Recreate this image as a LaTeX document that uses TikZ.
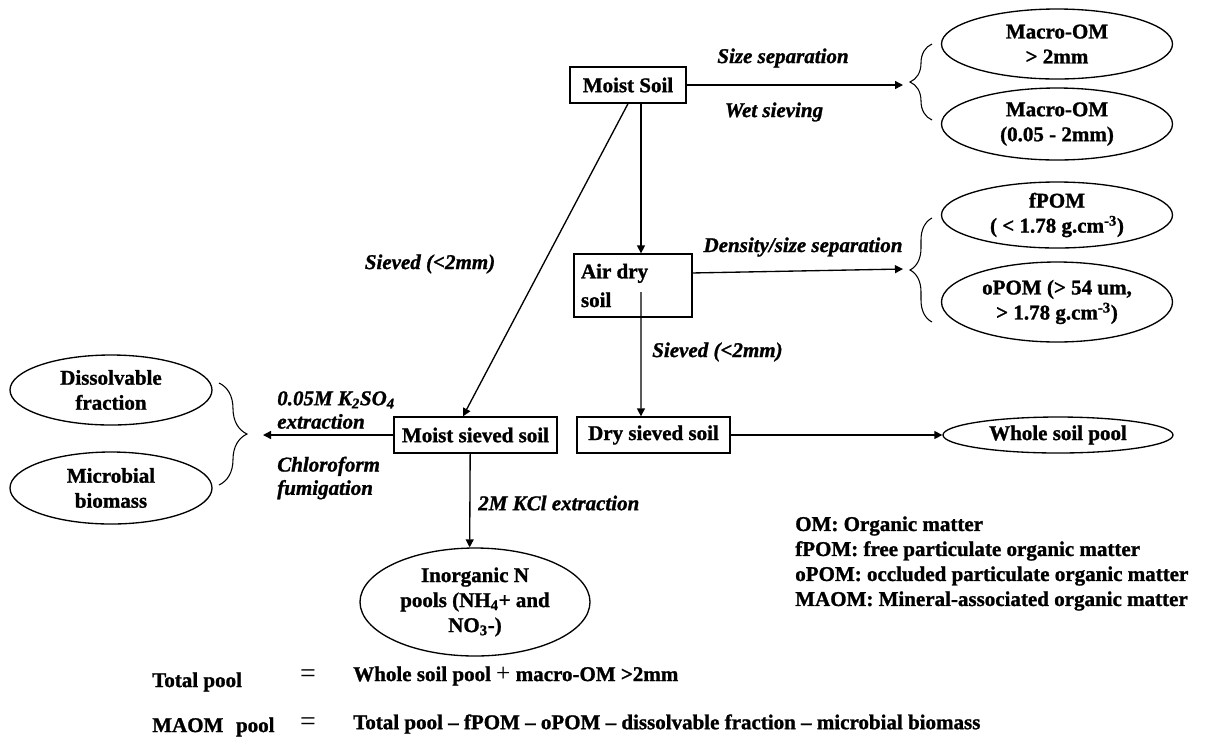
\documentclass[tikz,border=0pt]{standalone}
\usepackage{fontspec}
\setmainfont{Liberation Serif}[BoldFeatures={FakeBold=1.2},BoldItalicFeatures={FakeBold=1.2}]
\usetikzlibrary{shapes.geometric, arrows.meta, decorations.pathreplacing}
\newcommand\fs{\fontsize{15.75}{18.75}\selectfont}
\begin{document}
\begin{tikzpicture}[x=0.75pt,y=-0.75pt,
  every node/.style={inner sep=0pt, font=\fs\bfseries},
  box/.style={draw, line width=1pt, minimum height=27pt},
  ell/.style={draw, ellipse, line width=1pt, align=center},
  lab/.style={font=\fs\bfseries\itshape, align=flush left},
  arr/.style={line width=1pt, -{Triangle[length=6pt,width=6pt]}},
  brc/.style={decorate, decoration={brace, amplitude=#1}, line width=0.8pt},
  eqs/.style={font=\fontsize{21}{21}\selectfont\mdseries}
]
\fill[white] (0,0) rectangle (1210,744);
\useasboundingbox (0,0) rectangle (1210,744);

% boxes
\node[box, minimum width=87pt] (ms) at (628,85) {Moist Soil};
\node[box, minimum width=88.5pt, minimum height=47.25pt, text width=78pt, align=flush left,
      font=\fontsize{15.75}{21.5}\selectfont\bfseries] (ad) at (633,285.5) {Air dry\\soil};
\node[box, minimum width=122.25pt] (mss) at (475.5,435) {Moist sieved soil};
\node[box, minimum width=114.75pt] (ds) at (653.5,435) {Dry sieved soil};

% ellipses right
\node[ell, minimum width=173.25pt, minimum height=52.5pt] (e1) at (1057,44) {Macro-OM\\> 2mm};
\node[ell, minimum width=173.25pt, minimum height=54pt] (e2) at (1057,124) {Macro-OM\\(0.05 - 2mm)};
\node[ell, minimum width=173.25pt, minimum height=49.5pt] (e3) at (1057,215) {fPOM\\( < 1.78 g.cm\textsuperscript{-3})};
\node[ell, minimum width=173.25pt, minimum height=60pt] (e4) at (1057,302) {oPOM (> 54 um,\\> 1.78 g.cm\textsuperscript{-3})};
\node[ell, minimum width=172.5pt, minimum height=27pt] (wsp) at (1058,435) {Whole soil pool};

% ellipses left / bottom
\node[ell, minimum width=151.5pt, minimum height=52.5pt] (dis) at (111,390) {Dissolvable\\fraction};
\node[ell, minimum width=151.5pt, minimum height=54pt] (mic) at (111,488) {Microbial\\biomass};
\node[ell, minimum width=172.5pt, minimum height=81pt] (ino) at (475,602) {Inorganic N\\pools (NH\textsubscript{4}+ and\\NO\textsubscript{3}-)};

% braces
\draw[brc=16.5pt] (932,120) -- (932,44);
\draw[brc=16.5pt] (932,322) -- (932,218);
\draw[brc=21pt] (219,383) -- (219,485);
\coordinate (t1) at (903,85);
\coordinate (t2) at (903,269);
\coordinate (t3) at (263,435);

% connectors
\draw[arr] (ms.east) -- (t1);
\draw[arr] ([xshift=9.75pt]ms.south) -- ([xshift=6pt]ad.north);
\draw[arr] (ms.south) -- ([xshift=-9.4pt]mss.north);
\draw[arr] ([yshift=9.4pt]ad.east) -- (t2);
\draw[arr] ([xshift=6pt,yshift=-5pt]ad.center) -- ([xshift=-9.4pt]ds.north);
\draw[arr] (ds.east) -- (wsp.west);
\draw[arr] (mss.west) -- (t3);
\draw[arr] ([xshift=-4pt]mss.south) -- ([xshift=-4pt]ino.north);

% labels
\node[lab] (l1) at (783,58) {Size separation};
\node[lab] (l2) at (774,112) {Wet sieving};
\node[lab] (l3) at (803,247) {Density/size separation};
\node[lab] (l4) at (430,264) {Sieved (<2mm)};
\node[lab, anchor=west] (l5) at (652,352) {Sieved (<2mm)};
\node[lab, anchor=west] (l6) at (478,503) {2M KCl extraction};
\node[lab, anchor=west, font=\fontsize{15.75}{17.5}\selectfont\bfseries\itshape] (l7) at (277,410) {0.05M K\textsubscript{2}SO\textsubscript{4}\\extraction};
\node[lab, anchor=west, font=\fontsize{15.75}{17.5}\selectfont\bfseries\itshape] (l8) at (277,478) {Chloroform\\fumigation};

% legend
\node[anchor=west, align=flush left, font=\fontsize{15.75}{18.75}\selectfont\bfseries] (leg) at (795,563.5)
  {OM: Organic matter\\fPOM: free particulate organic matter\\oPOM: occluded particulate organic matter\\MAOM: Mineral-associated organic matter};

% equations
\node[anchor=west] (q1a) at (152,682) {Total pool};
\node[eqs] (q1b) at (308,676) {=};
\node[anchor=west] (q1c) at (353,676) {Whole soil pool {\fontsize{19}{19}\selectfont\mdseries +} macro-OM >2mm};
\node[anchor=west] (q2a) at (152,727) {MAOM\hspace{0.6em}pool};
\node[eqs] (q2b) at (308,724) {=};
\node[anchor=west] (q2c) at (353,724) {Total pool – fPOM – oPOM – dissolvable fraction – microbial biomass};
\end{tikzpicture}
\end{document}
